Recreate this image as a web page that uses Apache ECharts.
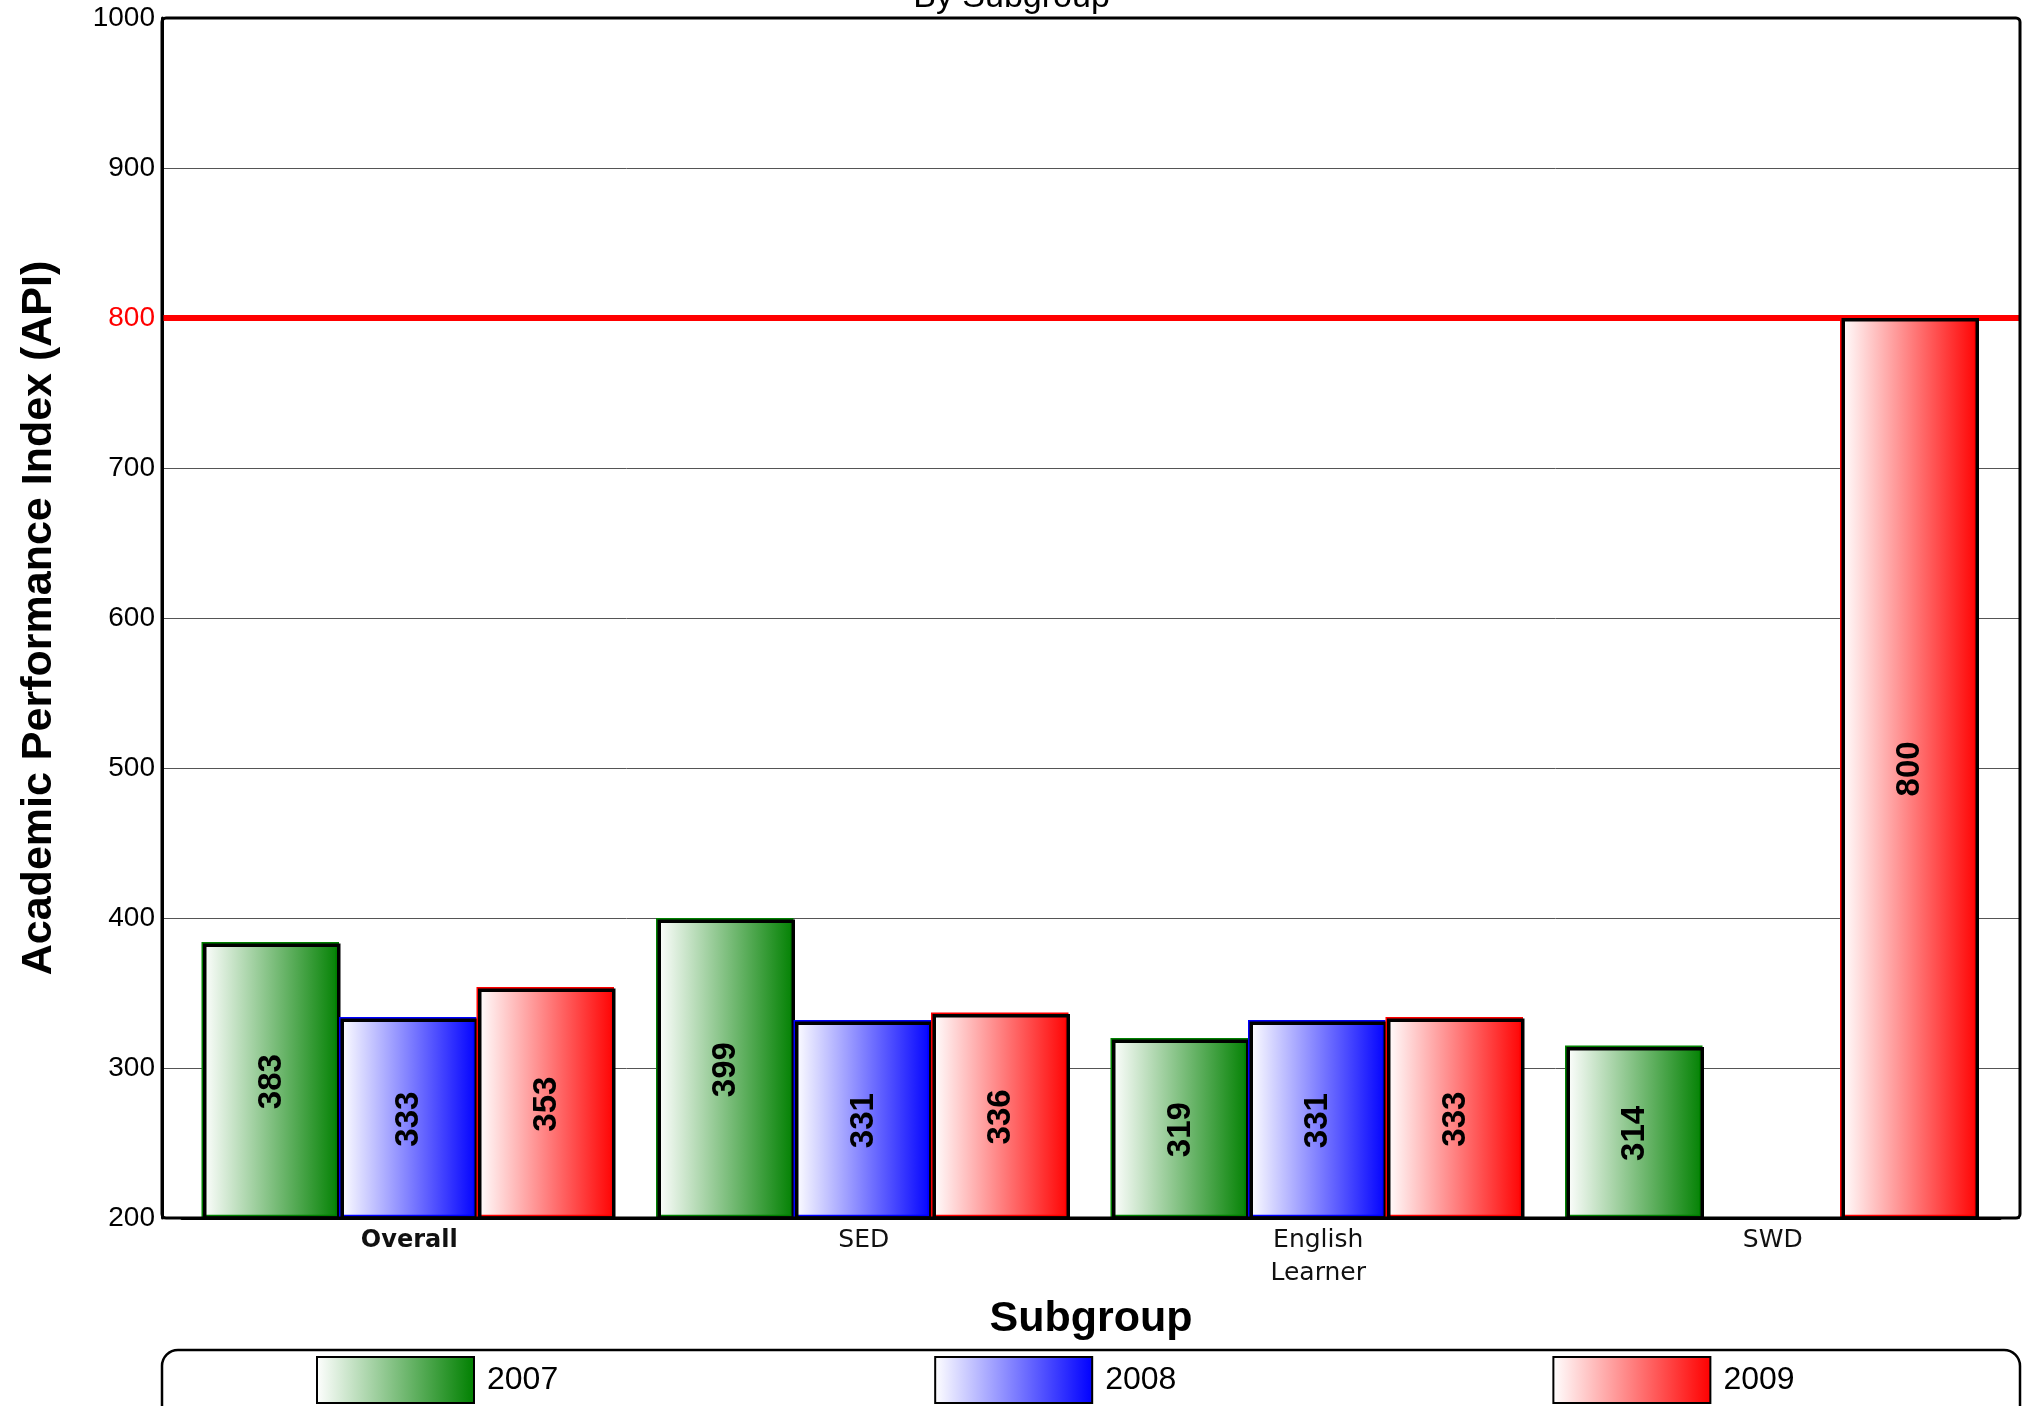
<!DOCTYPE html>
<html><head><meta charset="utf-8">
<script src="https://cdn.jsdelivr.net/npm/echarts@6/dist/echarts.min.js"></script>
<style>html,body{margin:0;padding:0;background:#fff}#c{width:2023px;height:1406px}</style>
</head><body><div id="c"></div>
<script>
// ---- data ----
const categories = ['Overall', 'SED', 'English\nLearner', 'SWD'];
const years = ['2007', '2008', '2009'];
const v2007 = [383, 399, 319, 314];
const v2008 = [333, 331, 331, null];
const v2009 = [353, 336, 333, 800];
const yMin = 200, yMax = 1000, yInterval = 100;
const targetValue = 800;
const titleText = 'By Subgroup';
const yName = 'Academic Performance Index (API)';
const xName = 'Subgroup';

// ---- styles ----
const seriesColors = ['#008000', '#0000ff', '#ff0000'];
const seriesValues = [v2007, v2008, v2009];
function grad(c) {
  return { type: 'linear', x: 0, y: 0, x2: 1, y2: 0,
    colorStops: [{ offset: 0, color: '#ffffff' }, { offset: 1, color: c }] };
}
const chart = echarts.init(document.getElementById('c'), null, { renderer: 'canvas' });

const barSeries = years.map((y, i) => ({
  name: y,
  type: 'bar',
  xAxisIndex: 1,
  yAxisIndex: 1,
  data: seriesValues[i],
  barWidth: 137.5,
  barGap: '0%',
  itemStyle: {
    color: grad(seriesColors[i]),
    borderColor: '#000',
    borderWidth: 3.5,
    shadowColor: seriesColors[i],
    shadowOffsetX: -1.5,
    shadowOffsetY: -1.5,
    shadowBlur: 0
  },
  label: {
    show: true,
    position: 'inside',
    rotate: 90,
    color: '#000',
    fontFamily: 'Liberation Sans, Arial, sans-serif',
    fontWeight: 'bold',
    fontSize: 33
  },
  emphasis: { disabled: true }
}));

const option = {
  animation: false,
  backgroundColor: '#fff',
  title: {
    text: titleText,
    left: 'center',
    top: -24,
    textStyle: { fontFamily: 'Liberation Sans, Arial, sans-serif', fontSize: 34, fontWeight: 'normal', color: '#000' }
  },
  grid: [
    { left: 162, right: 3, top: 18, bottom: 188 },
    { left: 182, right: 23, top: 18, bottom: 188 }
  ],
  xAxis: [
    { type: 'value', gridIndex: 0, min: 0, max: 1, show: false },
    {
      type: 'category', gridIndex: 1,
      data: categories.map((c, i) => i === 0 ? { value: c, textStyle: { fontWeight: 'bold', fontSize: 24 } } : c),
      axisLine: { lineStyle: { color: '#000', width: 3 } },
      axisTick: { show: false },
      axisLabel: {
        interval: 0, margin: 6, color: '#111', fontFamily: 'DejaVu Sans, Verdana, sans-serif',
        fontSize: 25, lineHeight: 33
      },
      name: xName, nameLocation: 'middle', nameGap: 80,
      nameTextStyle: { fontFamily: 'Liberation Sans, Arial, sans-serif', fontSize: 43, fontWeight: 'bold', color: '#000' }
    }
  ],
  yAxis: [
    {
      type: 'value', gridIndex: 0, min: yMin, max: yMax, interval: yInterval,
      axisLine: { show: true, lineStyle: { color: '#000', width: 3 } },
      axisTick: { show: false },
      splitLine: { show: true, lineStyle: { color: '#555', width: 1 } },
      axisLabel: {
        margin: 7, fontFamily: 'Liberation Sans, Arial, sans-serif', fontSize: 28,
        formatter: (v) => String(v),
        color: (v) => (Number(v) === targetValue ? '#ff0000' : '#000')
      },
      name: yName, nameLocation: 'middle', nameGap: 101, nameRotate: 90,
      nameTextStyle: { fontFamily: 'Liberation Sans, Arial, sans-serif', fontSize: 43, fontWeight: 'bold', color: '#000' }
    },
    { type: 'value', gridIndex: 1, min: yMin, max: yMax, interval: yInterval, show: false }
  ],
  legend: {
    data: years,
    left: 311,
    top: 1351,
    itemWidth: 157,
    itemHeight: 46,
    itemGap: 376,
    icon: 'rect',
    selectedMode: false,
    textStyle: { fontFamily: 'Liberation Sans, Arial, sans-serif', fontSize: 32, color: '#000', padding: [0, 0, 0, 8] }
  },
  graphic: [
    { type: 'rect', shape: { x: 162, y: 18, width: 1858, height: 1200, r: 4 },
      style: { fill: 'none', stroke: '#000', lineWidth: 3 }, z: 100, silent: true },
    { type: 'rect', shape: { x: 162, y: 1350, width: 1858, height: 90, r: 16 },
      style: { fill: 'none', stroke: '#000', lineWidth: 2.5 }, z: 0, silent: true }
  ],
  series: [
    {
      name: 'target', type: 'line', xAxisIndex: 0, yAxisIndex: 0,
      data: [[0, targetValue], [1, targetValue]],
      symbol: 'none', silent: true, z: 1,
      lineStyle: { color: '#ff0000', width: 6 }
    },
    ...barSeries
  ]
};
chart.setOption(option);
</script>
</body></html>
